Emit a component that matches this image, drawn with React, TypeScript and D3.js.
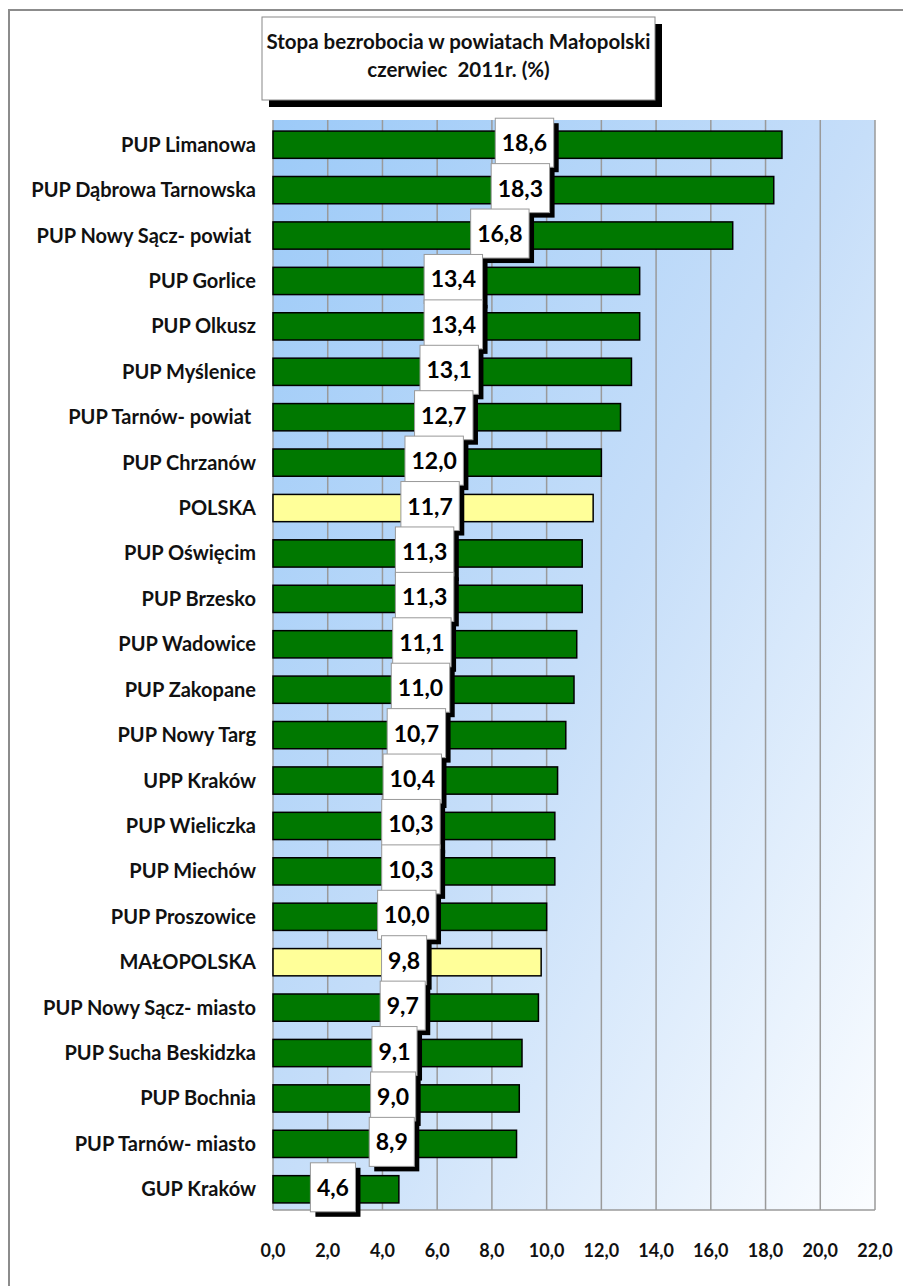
import React from "react";
import * as d3 from "d3";

const categories = [
  "PUP Limanowa",
  "PUP Dąbrowa Tarnowska",
  "PUP Nowy Sącz- powiat ",
  "PUP Gorlice",
  "PUP Olkusz",
  "PUP Myślenice",
  "PUP Tarnów- powiat ",
  "PUP Chrzanów",
  "POLSKA",
  "PUP Oświęcim",
  "PUP Brzesko",
  "PUP Wadowice",
  "PUP Zakopane",
  "PUP Nowy Targ",
  "UPP Kraków",
  "PUP Wieliczka",
  "PUP Miechów",
  "PUP Proszowice",
  "MAŁOPOLSKA",
  "PUP Nowy Sącz- miasto",
  "PUP Sucha Beskidzka",
  "PUP Bochnia",
  "PUP Tarnów- miasto",
  "GUP Kraków",
];

const values = [
  18.6, 18.3, 16.8, 13.4, 13.4, 13.1, 12.7, 12.0, 11.7, 11.3, 11.3, 11.1, 11.0,
  10.7, 10.4, 10.3, 10.3, 10.0, 9.8, 9.7, 9.1, 9.0, 8.9, 4.6,
];

const highlighted = ["POLSKA", "MAŁOPOLSKA"];

const xTicks = [0, 2, 4, 6, 8, 10, 12, 14, 16, 18, 20, 22];

const titleLines = ["Stopa bezrobocia w powiatach Małopolski", "czerwiec  2011r. (%)"];

const FONT = "Lato, 'Open Sans', 'DejaVu Sans', sans-serif";

const fmt = (v: number) => v.toFixed(1).replace(".", ",");

let ctx: CanvasRenderingContext2D | null = null;
function measure(text: string, font: string): number {
  if (!ctx) {
    const c = document.createElement("canvas");
    ctx = c.getContext("2d");
  }
  if (!ctx) return text.length * 12;
  ctx.font = font;
  return ctx.measureText(text).width;
}

export default function App() {
  const W = 903;
  const H = 1286;
  const left = 273;
  const right = 875;
  const top = 120;
  const bottom = 1210;

  const x = d3.scaleLinear().domain([0, 22]).range([left, right]);
  const y = d3
    .scaleBand<string>()
    .domain(categories)
    .range([top + 2, bottom + 2])
    .paddingInner(0.4)
    .paddingOuter(0.2);

  const valSize = 23;
  const labelFont = `bold ${valSize}px Lato`;

  return (
    <svg
      width={W}
      height={H}
      style={{ display: "block", position: "absolute", left: 0, top: 0 }}
      xmlns="http://www.w3.org/2000/svg"
    >
      <defs>
        <linearGradient id="bg" x1="0" y1="0" x2="1" y2="1">
          <stop offset="0" stopColor="#9ccaf8" />
          <stop offset="0.5" stopColor="#c6def9" />
          <stop offset="1" stopColor="#fbfdff" />
        </linearGradient>
      </defs>
      <rect x={0} y={0} width={W} height={H} fill="#fff" />
      {/* outer border: only left and top edges are inside the page */}
      <line x1={9} y1={10} x2={W} y2={10} stroke="#8c8c8c" strokeWidth={2} />
      <line x1={9} y1={9} x2={9} y2={H} stroke="#8c8c8c" strokeWidth={2} />

      {/* plot area */}
      <rect x={left} y={top} width={right - left} height={bottom - top} fill="url(#bg)" />
      {xTicks.map((t) => (
        <line
          key={"g" + t}
          x1={x(t)}
          x2={x(t)}
          y1={top}
          y2={bottom}
          stroke="#9a9a9a"
          strokeWidth={1.5}
        />
      ))}
      <line x1={left} x2={right} y1={bottom} y2={bottom} stroke="#9a9a9a" strokeWidth={1.5} />

      {/* bars */}
      {categories.map((c, i) => (
        <rect
          key={"b" + c}
          x={x(0)}
          y={y(c)}
          width={x(values[i]) - x(0)}
          height={y.bandwidth()}
          fill={highlighted.includes(c) ? "#ffff99" : "#007800"}
          stroke="#000"
          strokeWidth={1.5}
        />
      ))}

      {/* category labels */}
      {categories.map((c) => (
        <text
          key={"l" + c}
          x={256}
          y={(y(c) as number) + y.bandwidth() / 2 + 7}
          textAnchor="end"
          fontFamily={FONT}
          fontWeight="bold"
          fontSize={20}
          fill="#111"
          style={{ whiteSpace: "pre" }}
        >
          {c}
        </text>
      ))}

      {/* value labels */}
      {categories.map((c, i) => {
        const txt = fmt(values[i]);
        const tw = measure(txt, labelFont);
        const bw = tw + 13;
        const bh = 49;
        const cx = x(values[i] / 2) - 3;
        const cy = (y(c) as number) + y.bandwidth() / 2 - 2;
        return (
          <g key={"v" + c}>
            <rect x={cx - bw / 2 + 5} y={cy - bh / 2 + 5} width={bw} height={bh} fill="#000" />
            <rect
              x={cx - bw / 2}
              y={cy - bh / 2}
              width={bw}
              height={bh}
              fill="#fff"
              stroke="#999"
              strokeWidth={1}
            />
            <text
              x={cx}
              y={cy + 8.5}
              textAnchor="middle"
              fontFamily={FONT}
              fontWeight="bold"
              fontSize={valSize}
              fill="#000"
            >
              {txt}
            </text>
          </g>
        );
      })}

      {/* x tick labels */}
      {xTicks.map((t) => (
        <text
          key={"t" + t}
          x={x(t)}
          y={1257}
          textAnchor="middle"
          fontFamily={FONT}
          fontWeight="bold"
          fontSize={18}
          fill="#111"
        >
          {fmt(t)}
        </text>
      ))}

      {/* title */}
      <rect x={269} y={24} width={393} height={83} fill="#000" />
      <rect x={262} y={17} width={393} height={83} fill="#fff" stroke="#888" strokeWidth={1} />
      {titleLines.map((l, i) => (
        <text
          key={"ti" + i}
          x={458.5}
          y={48.5 + i * 28.5}
          textAnchor="middle"
          fontFamily={FONT}
          fontWeight="bold"
          fontSize={20.5}
          fill="#111"
          style={{ whiteSpace: "pre" }}
        >
          {l}
        </text>
      ))}
    </svg>
  );
}
